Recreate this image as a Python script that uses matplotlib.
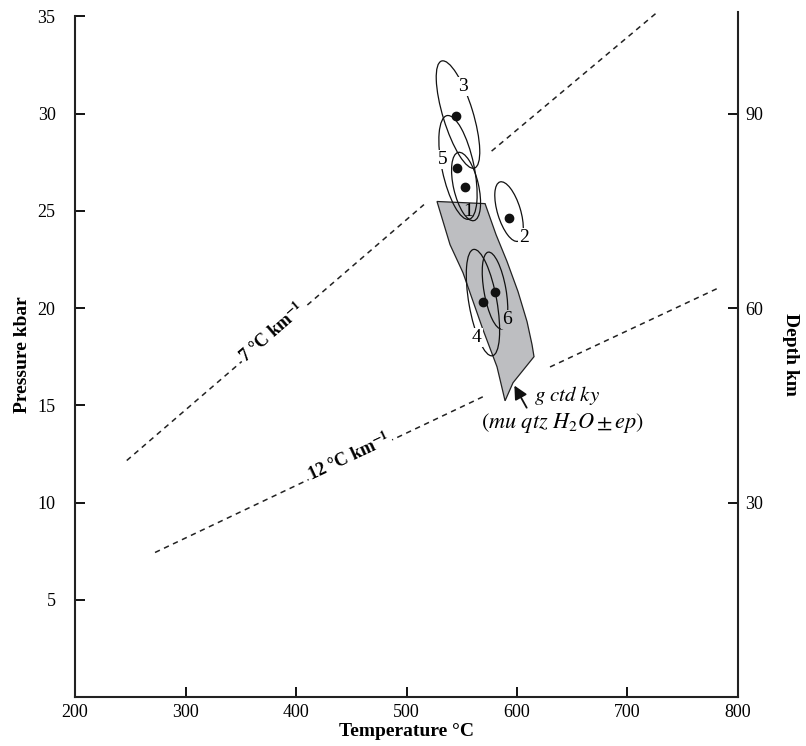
import matplotlib
matplotlib.use('Agg')
import matplotlib.pyplot as plt
from matplotlib.patches import Ellipse, Polygon
from matplotlib.transforms import ScaledTranslation

plt.rcParams['font.family'] = 'Liberation Serif'
plt.rcParams['mathtext.fontset'] = 'stix'

# P-T estimates of the samples (dots)
samples = ['1', '2', '3', '4', '5', '6']
T_pt = [553, 593, 545, 569, 546, 580]
P_pt = [26.2, 24.65, 29.9, 20.3, 27.2, 20.8]

# error ellipses (centre in data, minor/major in px, tilt in deg)
ell_T = [553.9, 592.8, 546.6, 569.2, 546.6, 580.1]
ell_P = [26.25, 24.96, 29.95, 20.28, 27.23, 20.9]
ell_min = [25, 23, 30, 28, 32, 22]
ell_maj = [70, 62, 112, 108, 106, 78]
ell_ang = [13, 17, 17, 10, 12, 10]

# label positions of the ellipses
lab_T = [555.7, 606.3, 551.1, 563.8, 533.0, 591.0]
lab_P = [24.96, 23.62, 31.4, 18.48, 27.64, 19.4]

# g ctd ky field
poly_T = [527.6, 571.1, 581.0, 591.0, 600.9, 609.1, 613.6, 615.4, 596.4, 589.2,
          581.9, 569.2, 551.1, 539.4]
poly_P = [25.48, 25.37, 23.78, 22.39, 20.85, 19.3, 18.12, 17.5, 16.16, 15.23,
          16.98, 18.89, 21.82, 23.26]

# geotherms (dashed)
g7_lo_T = [246.8, 515.8]
g7_lo_P = [12.16, 25.32]
g7_hi_T = [577.0, 726.7]
g7_hi_P = [28.07, 35.2]
g12_lo_T = [272.4, 569.2]
g12_lo_P = [7.43, 15.44]
g12_hi_T = [629.9, 782.2]
g12_hi_P = [16.97, 21.03]

fig = plt.figure(figsize=(8.06, 7.46), dpi=100)
ax = fig.add_axes([0.0931, 0.0657, 0.8225, 0.9176])

ax.set_xlim(200, 800)
ax.set_ylim(0, 35.2)

grey = '#bdbec1'
ax.add_patch(Polygon(list(zip(poly_T, poly_P)), closed=True, facecolor=grey,
                     edgecolor='#222222', lw=0.9, zorder=1))

dash = (0, (3.5, 3))
for tt, pp in [(g7_lo_T, g7_lo_P), (g7_hi_T, g7_hi_P), (g12_lo_T, g12_lo_P), (g12_hi_T, g12_hi_P)]:
    ax.plot(tt, pp, color='#222222', lw=1.1, linestyle=dash, clip_on=False, zorder=1)

for i in range(len(samples)):
    tr = fig.dpi_scale_trans + ScaledTranslation(ell_T[i], ell_P[i], ax.transData)
    ax.add_patch(Ellipse((0, 0), ell_min[i] / 100, ell_maj[i] / 100, angle=ell_ang[i],
                         transform=tr, fill=False, edgecolor='#111111', lw=0.9, zorder=2))

ax.plot(T_pt, P_pt, 'o', color='#111111', ms=6, zorder=3)

for i, s in enumerate(samples):
    if s == '1':
        bb = None
    elif s == '6':
        bb = dict(facecolor=grey, edgecolor='none', pad=0.5)
    else:
        bb = dict(facecolor='white', edgecolor='none', pad=0.5)
    ax.text(lab_T[i], lab_P[i], s, fontsize=14, ha='center', va='center', bbox=bb, zorder=4)

ax.text(378.3, 18.73, r'7 °C km$^{\mathbf{-1}}$', fontsize=13, fontweight='bold', rotation=41,
        ha='center', va='center', rotation_mode='anchor',
        bbox=dict(facecolor='white', edgecolor='none', pad=1), zorder=4)
ax.text(448, 12.35, r'12 °C km$^{\mathbf{-1}}$', fontsize=13, fontweight='bold', rotation=25,
        ha='center', va='center', rotation_mode='anchor',
        bbox=dict(facecolor='white', edgecolor='none', pad=1), zorder=4)

ax.text(645, 15.5, r'$g\ ctd\ ky$', fontsize=15, ha='center', va='center')
ax.text(641.6, 14.1, r'$(mu\ qtz\ H_2O \pm ep)$', fontsize=16, ha='center', va='center')
ax.annotate('', xy=(596.4, 16.14), xytext=(610, 14.75),
            arrowprops=dict(arrowstyle='-|>', color='#111111', lw=1.3, mutation_scale=20))

ax.spines['top'].set_visible(False)
ax.spines['right'].set_visible(False)
ax.spines['left'].set_bounds(0, 35)
for sp in ['left', 'bottom']:
    ax.spines[sp].set_linewidth(1.5)
    ax.spines[sp].set_color('#222222')

ax.set_xticks([200, 300, 400, 500, 600, 700, 800])
ax.set_yticks([5, 10, 15, 20, 25, 30, 35])
ax.tick_params(axis='x', direction='in', length=7, width=1.3, labelsize=13, pad=5)
ax.tick_params(axis='y', direction='in', length=7, width=1.3, labelsize=13, pad=14)
ax.set_xlabel('Temperature °C', fontsize=14, fontweight='bold', labelpad=1.5)
ax.set_ylabel('Pressure kbar', fontsize=14, fontweight='bold', labelpad=5)

ax2 = ax.twinx()
ax2.set_ylim(0, 35.2 * 3)
ax2.set_yticks([30, 60, 90])
for sp in ['top', 'left', 'bottom']:
    ax2.spines[sp].set_visible(False)
ax2.spines['right'].set_linewidth(1.5)
ax2.spines['right'].set_color('#222222')
ax2.tick_params(axis='y', direction='in', length=7, width=1.3, labelsize=13, pad=5)
ax2.set_ylabel('Depth km', fontsize=14, fontweight='bold', rotation=270, labelpad=26)

fig.savefig('out.png', dpi=100)
